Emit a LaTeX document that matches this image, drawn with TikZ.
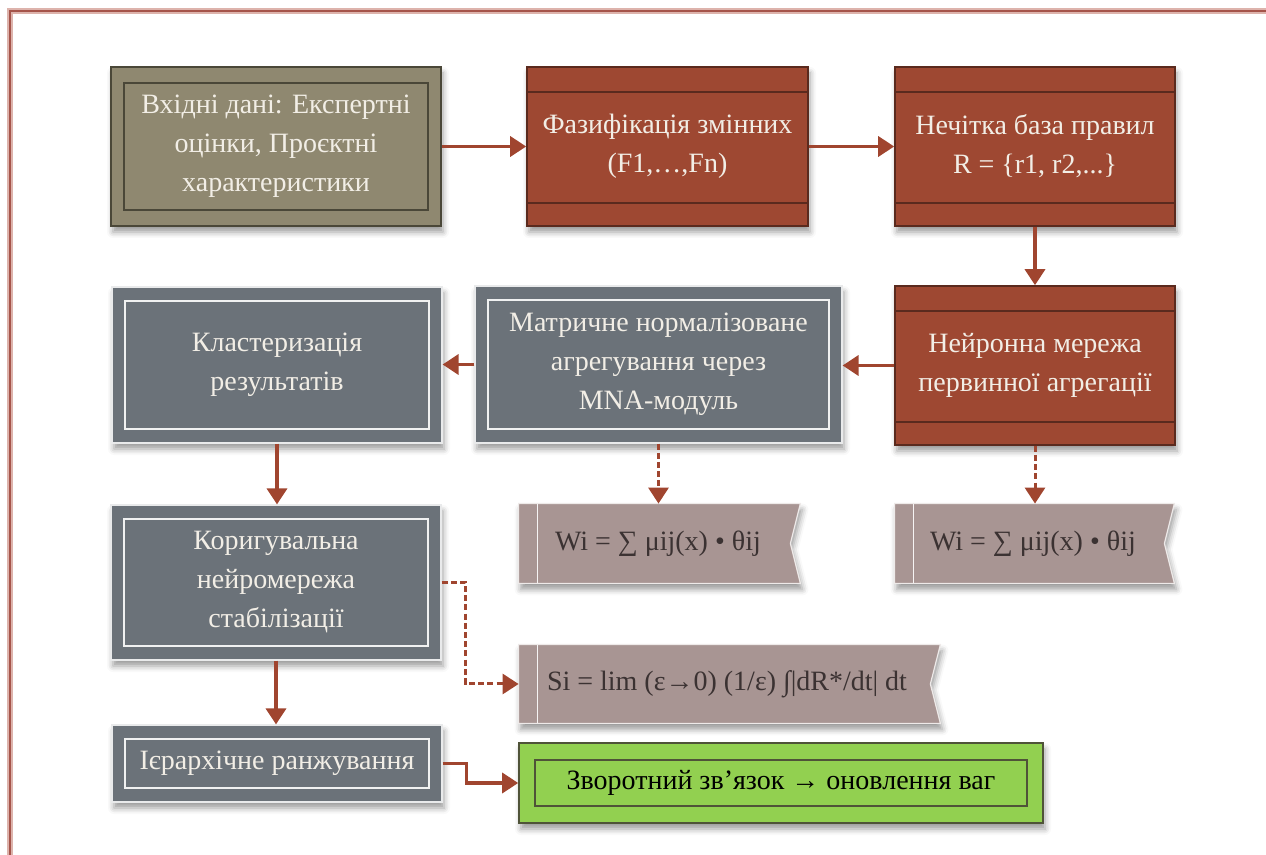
\documentclass[tikz,border=0pt]{standalone}
\usepackage{fontspec}
\setmainfont{Liberation Serif}
\usetikzlibrary{arrows.meta,shadows.blur,calc,backgrounds}

\definecolor{rust}{HTML}{9E4832}
\definecolor{rustdark}{HTML}{5A2A1E}
\definecolor{olive}{HTML}{8F8870}
\definecolor{olivedark}{HTML}{4A4738}
\definecolor{slate}{HTML}{6B7279}
\definecolor{taupe}{HTML}{A89593}
\definecolor{lime}{HTML}{92D050}
\definecolor{limedark}{HTML}{4F5338}
\definecolor{linkc}{HTML}{A0452F}
\definecolor{framec}{HTML}{A5544A}
\definecolor{frameglow}{HTML}{DDB3AC}
\definecolor{lighttext}{HTML}{F2EEE6}
\definecolor{darktext}{HTML}{3B3232}

\tikzset{
  every node/.style={font=\fontsize{14}{19.5}\selectfont, align=center, inner sep=0pt},
  boxshadow/.style={blur shadow={shadow xshift=1pt, shadow yshift=-3pt,
      shadow blur radius=3pt, shadow opacity=40}},
  % olive input box with an inner outline
  olivebox/.style={boxshadow, fill=olive, draw=olivedark, line width=0.8pt,
      text=lighttext,
      path picture={\draw[olivedark, line width=0.8pt]
        ([xshift=6.5pt,yshift=-8pt]path picture bounding box.north west) rectangle
        ([xshift=-6.5pt,yshift=8pt]path picture bounding box.south east);}},
  % rust box with a band at top and bottom
  rustbox/.style={boxshadow, fill=rust, draw=rustdark, line width=0.8pt,
      text=lighttext,
      path picture={\draw[rustdark, line width=0.8pt]
        ([yshift=-12.5pt]path picture bounding box.north west) --
        ([yshift=-12.5pt]path picture bounding box.north east)
        ([yshift=11.5pt]path picture bounding box.south west) --
        ([yshift=11.5pt]path picture bounding box.south east);}},
  % slate box with a white inner outline
  slatebox/.style={boxshadow, fill=slate, draw=white!85!slate, line width=0.6pt,
      text=lighttext,
      path picture={\draw[white!90!slate, line width=0.8pt]
        ([xshift=6.5pt,yshift=-7pt]path picture bounding box.north west) rectangle
        ([xshift=-6.5pt,yshift=7pt]path picture bounding box.south east);}},
  % green result box
  limebox/.style={boxshadow, fill=lime, draw=limedark, line width=0.8pt,
      text=black,
      path picture={\draw[limedark, line width=0.8pt]
        ([xshift=8pt,yshift=-8.5pt]path picture bounding box.north west) rectangle
        ([xshift=-8pt,yshift=8.5pt]path picture bounding box.south east);}},
  % formula tag: an empty frame plus a text label right of the stripe
  tagframe/.style={},
  tagtext/.style={text=darktext, anchor=west},
  tagshape/.style={boxshadow, fill=taupe, draw=white!80!taupe, line width=0.6pt},
  link/.style={draw=linkc, line width=1.75pt, -{Triangle[length=8pt,width=10pt]}},
  dlink/.style={draw=linkc, line width=1.5pt, dash pattern=on 3pt off 1.6pt,
      -{Triangle[length=8pt,width=10pt]}},
}

\begin{document}
\begin{tikzpicture}[x=0.5pt,y=-0.5pt]
\useasboundingbox (0,0) rectangle (1266,855);

% page frame
\draw[frameglow, line width=2.6pt] (10,860) -- (10,11) -- (1270,11);
\draw[framec, line width=1.3pt] (10,860) -- (10,11) -- (1270,11);

% first row
\node[olivebox, minimum width=165pt, minimum height=79.5pt] (inp) at (276,146.5)
  {Вхідні дані: Експертні\\оцінки, Проєктні\\характеристики};
\node[rustbox, minimum width=140.5pt, minimum height=79.5pt] (fuzz) at (667.5,146.5)
  {Фазифікація змінних\\(F1,…,Fn)};
\node[rustbox, minimum width=140pt, minimum height=79.5pt] (rules) at (1035,146.5)
  {Нечітка база правил\\R = \{r1, r2,...\}};

% second row
\node[rustbox, minimum width=140pt, minimum height=79.5pt] (neur) at (1035,365.5)
  {Нейронна мережа\\первинної агрегації};
\node[slatebox, minimum width=183.5pt, minimum height=78.5pt] (mna) at (658.5,364.5)
  {Матричне нормалізоване\\агрегування через\\MNA-модуль};
\node[slatebox, minimum width=165pt, minimum height=78pt] (clus) at (277,365)
  {Кластеризація\\результатів};

% third row
\node[tagframe, minimum width=140.5pt, minimum height=39.5pt] (w1) at (659.5,543.5) {};
\node[tagtext] (w1t) at ([xshift=18pt]w1.west) {Wi = ∑ μij(x) • θij};
\node[tagframe, minimum width=139.5pt, minimum height=39.5pt] (w2) at (1034.5,543.5) {};
\node[tagtext] (w2t) at ([xshift=17.5pt]w2.west) {Wi = ∑ μij(x) • θij};
\node[slatebox, minimum width=165pt, minimum height=77.5pt] (corr) at (276,582.5)
  {Коригувальна\\нейромережа\\стабілізації};
\node[tagframe, minimum width=210.5pt, minimum height=39pt] (si) at (729.5,684) {};
\node[tagtext] (sit) at ([xshift=14pt]si.west) {Si = lim (ε→0) (1/ε) ∫|dR*/dt| dt};

% last row
\node[slatebox, minimum width=165pt, minimum height=38.5pt] (rank) at (277,763.5)
  {Ієрархічне ранжування};
\node[limebox, minimum width=262pt, minimum height=40pt] (fb) at (781,783)
  {Зворотний зв’язок → оновлення ваг};

% formula tags drawn beneath their text
\begin{pgfonlayer}{background}
  \foreach \t in {w1,w2,si} {
    \path[tagshape] (\t.north west) -- (\t.north east) -- ([xshift=-5pt]\t.east)
      -- (\t.south east) -- (\t.south west) -- cycle;
    \draw[white!90!taupe, line width=0.8pt] ([xshift=9.5pt]\t.north west)
      -- ([xshift=9.5pt]\t.south west);
  }
\end{pgfonlayer}

% connectors
\draw[link] (inp) -- (fuzz);
\draw[link] (fuzz) -- (rules);
\draw[link] (rules) -- (neur);
\draw[link] (neur.west) -- (neur.west -| mna.east);
\draw[link] (mna.west) -- (mna.west -| clus.east);
\draw[link] (clus.south) -- (clus.south |- corr.north);
\draw[link] (corr.south) -- (corr.south |- rank.north);
\draw[link] (rank.east) -- ++(24,0) |- (fb.west);
\draw[dlink] (neur.south) -- (neur.south |- w2.north);
\draw[dlink] (mna.south) -- (mna.south |- w1.north);
\draw[dlink] (corr.east) -- ++(24,0) |- (si.west);
\end{tikzpicture}
\end{document}
